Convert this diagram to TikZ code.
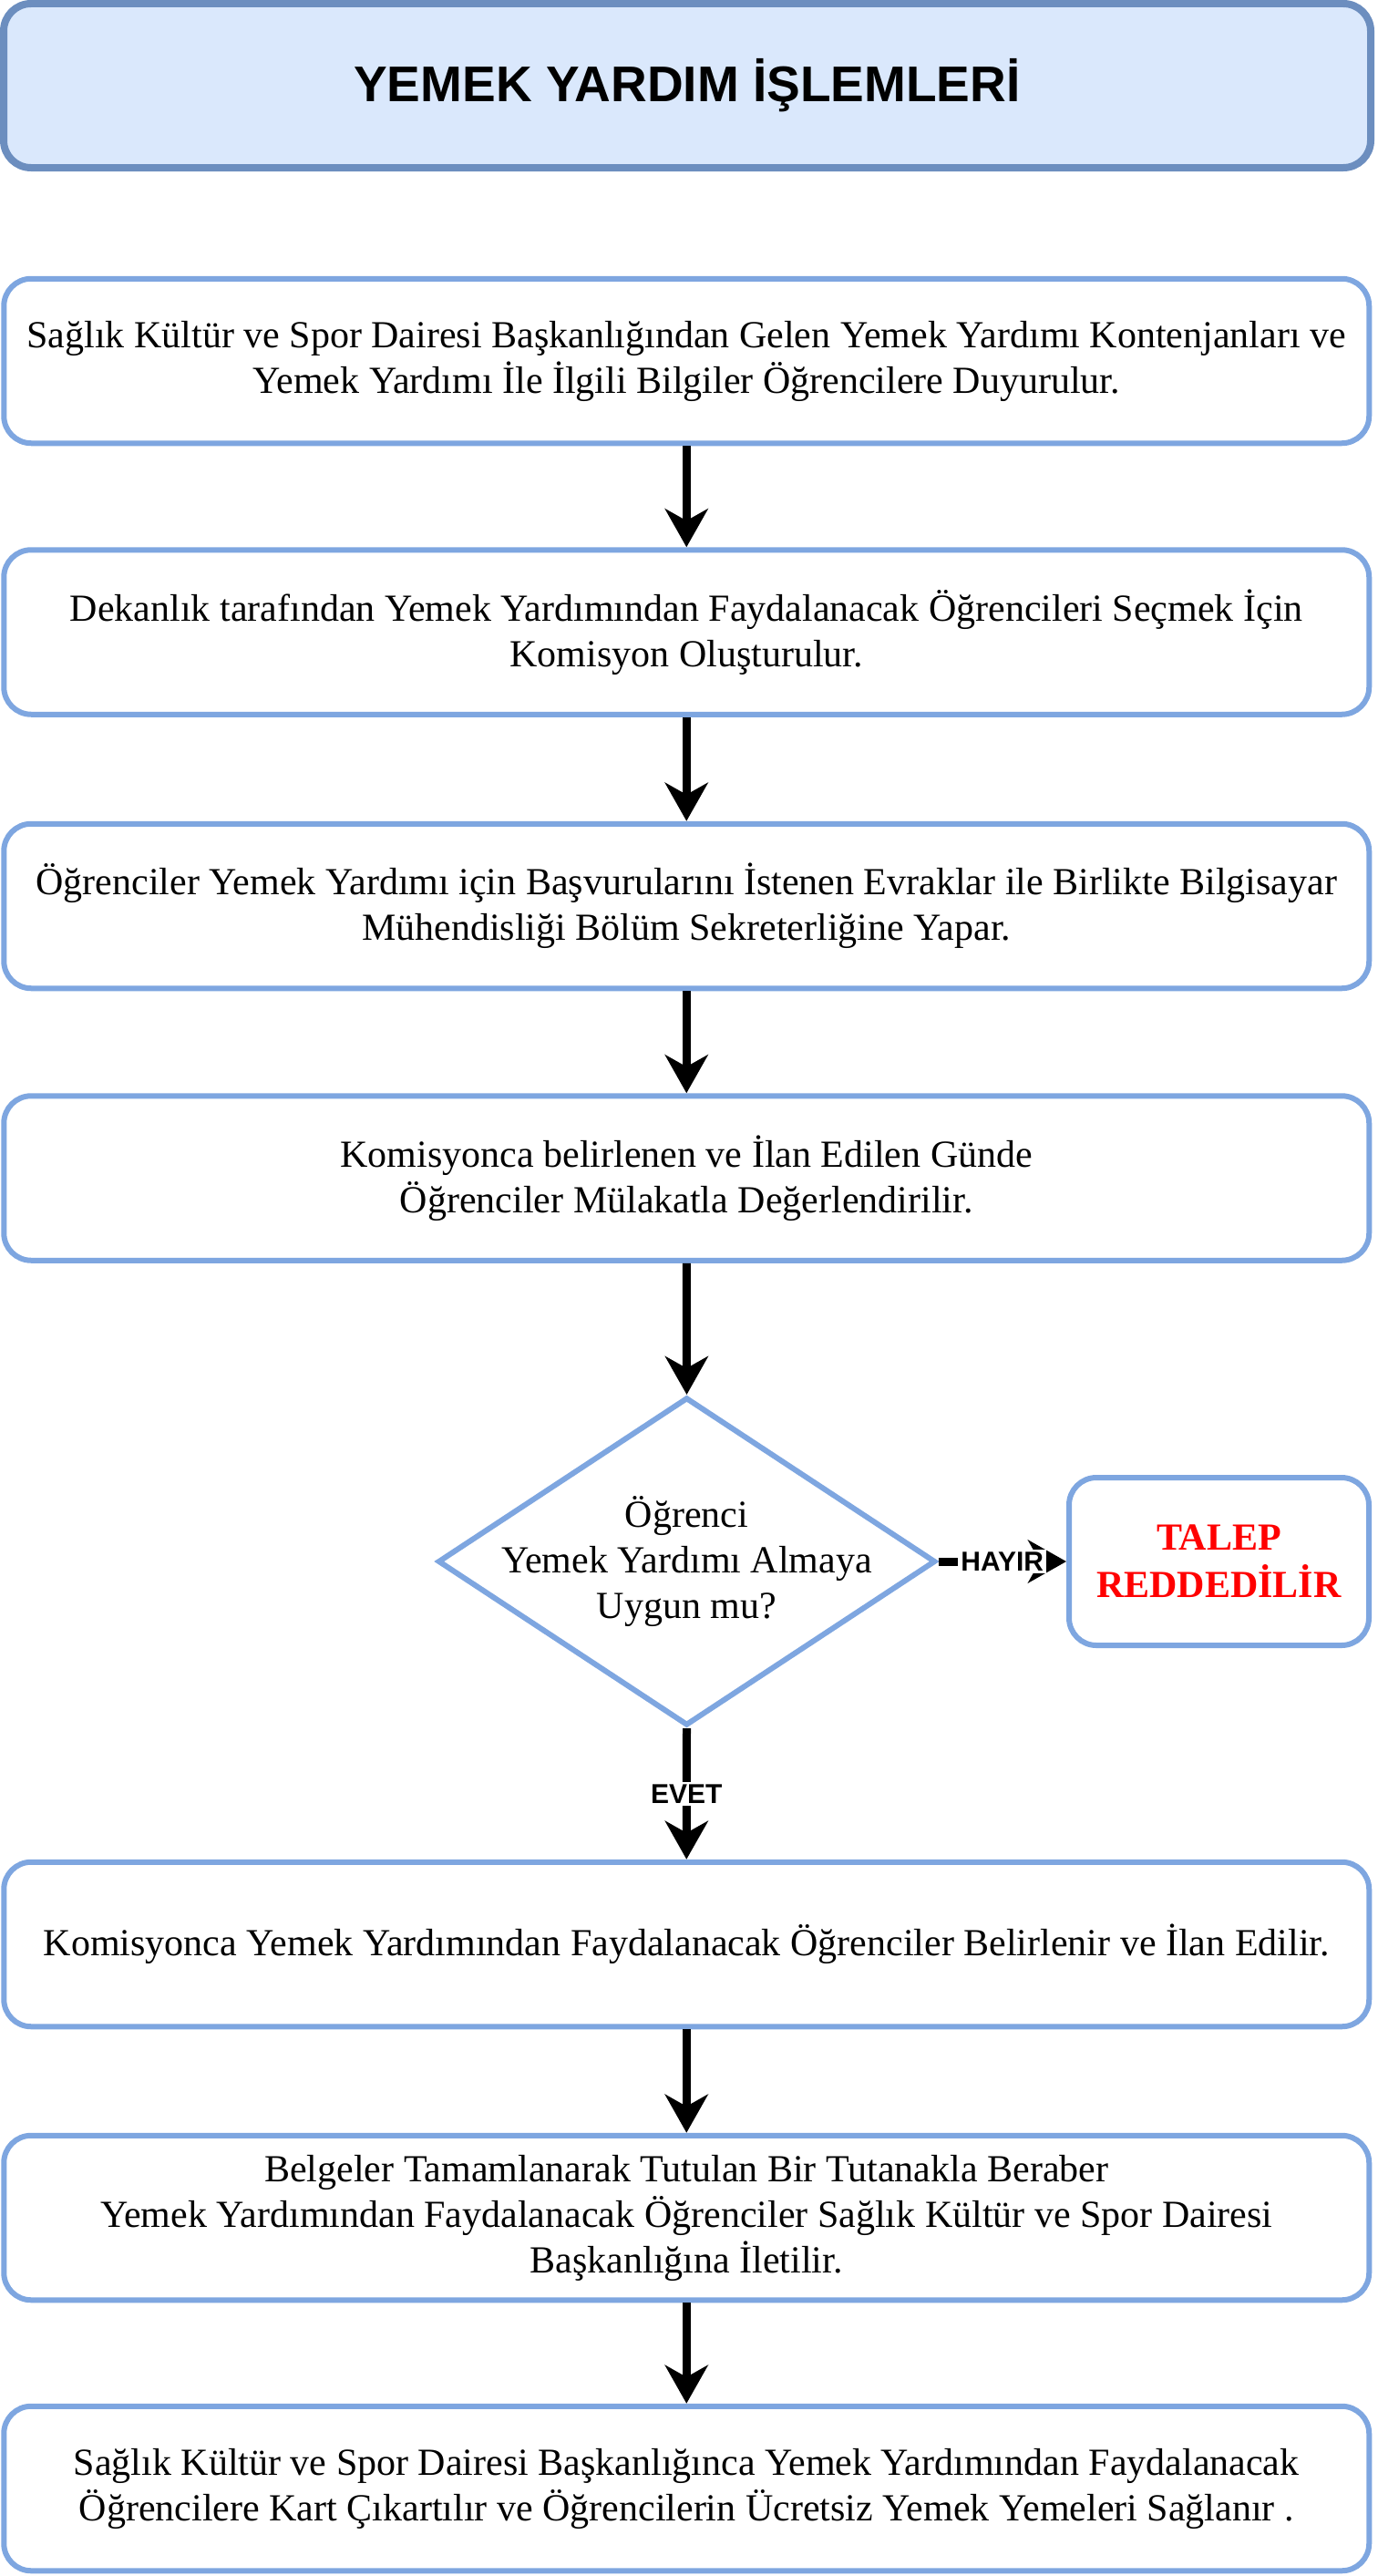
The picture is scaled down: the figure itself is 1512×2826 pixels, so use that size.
\documentclass[tikz,border=0pt]{standalone}
\usepackage{fontspec}
\setmainfont{Liberation Serif}
\newfontfamily\sansb{Liberation Sans}
\usetikzlibrary{shapes.geometric,arrows.meta}
\definecolor{boxblue}{HTML}{7EA6E0}
\definecolor{titleblue}{HTML}{6C8EBF}
\definecolor{titlefill}{HTML}{DAE8FC}
\definecolor{rejectred}{HTML}{FF0000}
\begin{document}
\begin{tikzpicture}[x=1pt,y=-1pt,
  boxtext/.style={align=center, font=\fontsize{42}{50}\selectfont},
  procbox/.style={boxtext, draw=boxblue, line width=6pt, rounded corners=30pt, fill=white,
    minimum width=1498pt, minimum height=180.5pt, inner sep=0pt},
  titlebox/.style={draw=titleblue, fill=titlefill, line width=8pt, rounded corners=30pt,
    minimum width=1500pt, minimum height=180pt, inner sep=0pt,
    font=\sansb\bfseries\fontsize{55}{60}\selectfont},
  decbox/.style={diamond, draw=boxblue, line width=6pt, fill=white, inner sep=0pt,
    minimum width=546pt, minimum height=360pt},
  rejbox/.style={boxtext, draw=boxblue, line width=6pt, rounded corners=30pt, fill=white,
    minimum width=329pt, minimum height=184pt, inner sep=0pt, text=rejectred,
    font=\bfseries\fontsize{42}{52}\selectfont},
  flow/.style={line width=9pt, draw=black, -{Stealth[length=42pt,width=47pt,inset=13pt]}},
  lbl/.style={fill=white, inner sep=3pt, font=\sansb\bfseries\fontsize{30}{34}\selectfont}]
\useasboundingbox (0,0) rectangle (1512,2826);

\node[titlebox] (title) at (754,94) {YEMEK YARDIM İŞLEMLERİ};

\node[procbox] (b1) at (753.25,396) {Sağlık Kültür ve Spor Dairesi Başkanlığından Gelen Yemek Yardımı Kontenjanları ve\\Yemek Yardımı İle İlgili Bilgiler Öğrencilere Duyurulur.};
\node[procbox] (b2) at (753.25,693.5) {Dekanlık tarafından Yemek Yardımından Faydalanacak Öğrencileri Seçmek İçin\\Komisyon Oluşturulur.};
\node[procbox] (b3) at (753.25,994) {Öğrenciler Yemek Yardımı için Başvurularını İstenen Evraklar ile Birlikte Bilgisayar\\Mühendisliği Bölüm Sekreterliğine Yapar.};
\node[procbox] (b4) at (753.25,1292.5) {Komisyonca belirlenen ve İlan Edilen Günde\\Öğrenciler Mülakatla Değerlendirilir.};

\node[decbox] (dia) at (753.5,1713) {};
\node[boxtext] (diatext) at (dia.center) {Öğrenci\\Yemek Yardımı Almaya\\Uygun mu?};

\node[rejbox] (rej) at (1337.5,1713) {TALEP\\REDDEDİLİR};

\node[procbox] (b5) at (753.25,2133) {Komisyonca Yemek Yardımından Faydalanacak Öğrenciler Belirlenir ve İlan Edilir.};
\node[procbox] (b6) at (753.25,2433) {Belgeler Tamamlanarak Tutulan Bir Tutanakla Beraber\\Yemek Yardımından Faydalanacak Öğrenciler Sağlık Kültür ve Spor Dairesi\\Başkanlığına İletilir.};
\node[procbox] (b7) at (753.25,2730) {Sağlık Kültür ve Spor Dairesi Başkanlığınca Yemek Yardımından Faydalanacak\\Öğrencilere Kart Çıkartılır ve Öğrencilerin Ücretsiz Yemek Yemeleri Sağlanır .};

\draw[flow] (b1.south) -- (b2.north);
\draw[flow] (b2.south) -- (b3.north);
\draw[flow] (b3.south) -- (b4.north);
\draw[flow] (b4.south) -- (dia.north);
\draw[flow] (dia.east) -- node[lbl] (lblno) {HAYIR} (rej.west);
\draw[flow] (dia.south) -- node[lbl] (lblyes) {EVET} (b5.north);
\draw[flow] (b5.south) -- (b6.north);
\draw[flow] (b6.south) -- (b7.north);
\end{tikzpicture}
\end{document}
